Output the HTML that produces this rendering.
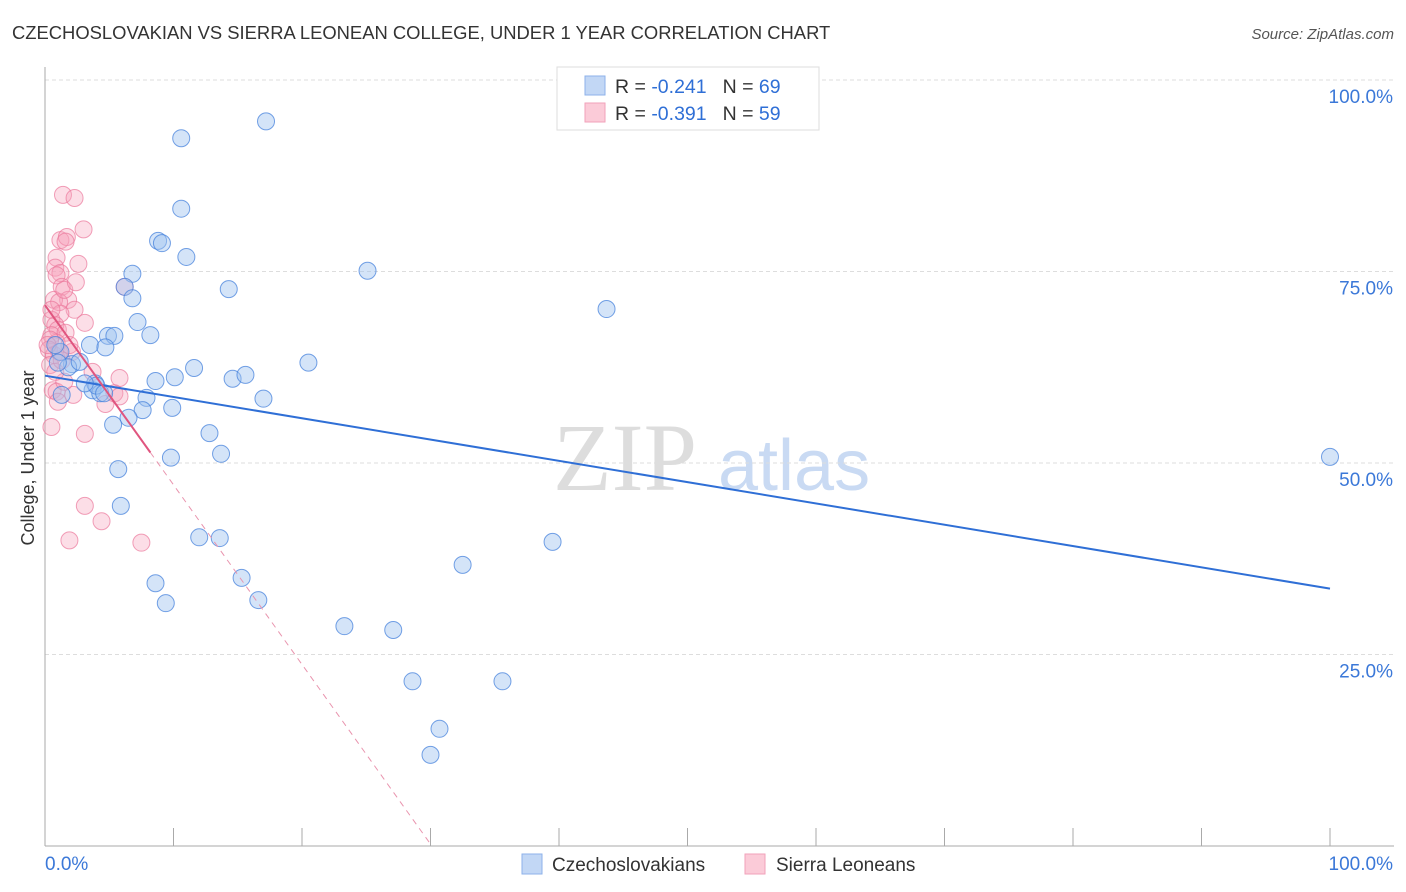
<!DOCTYPE html>
<html><head><meta charset="utf-8"><style>
body{margin:0;background:#fff;font-family:"Liberation Sans",sans-serif;}
#wrap{position:relative;width:1406px;height:892px;overflow:hidden}
</style></head><body>
<div id="wrap">
<svg id="svg" width="1406" height="892" xmlns="http://www.w3.org/2000/svg">
<text x="12" y="39" font-size="18.4" fill="#333">CZECHOSLOVAKIAN VS SIERRA LEONEAN COLLEGE, UNDER 1 YEAR CORRELATION CHART</text>
<text x="1394" y="39" font-size="15" fill="#555" font-style="italic" text-anchor="end">Source: ZipAtlas.com</text>
<text x="34" y="458" font-size="18" fill="#333" text-anchor="middle" transform="rotate(-90 34 458)">College, Under 1 year</text>
<text x="553" y="490" font-size="96" fill="#ddd" font-family="Liberation Serif,serif">ZIP</text>
<text x="718" y="490" font-size="72" fill="#c9daf3">atlas</text>
<g id="grid"></g><g id="pts"></g><g id="trend"></g>
<g>
<rect x="557" y="67" width="262" height="63" fill="#fff" stroke="#ddd"/>
<rect x="585" y="76" width="20" height="19" fill="#c2d7f5" stroke="#8db2ea"/>
<rect x="585" y="103" width="20" height="19" fill="#fbcbd8" stroke="#f1a2ba"/>
<text x="615" y="93" font-size="19.5" fill="#333">R = <tspan fill="#2f6fd6">-0.241</tspan><tspan dx="16">N = </tspan><tspan fill="#2f6fd6">69</tspan></text>
<text x="615" y="120" font-size="19.5" fill="#333">R = <tspan fill="#2f6fd6">-0.391</tspan><tspan dx="16">N = </tspan><tspan fill="#2f6fd6">59</tspan></text>
</g>
<g>
<rect x="522" y="854" width="20" height="20" fill="#c2d7f5" stroke="#8db2ea"/>
<text x="552" y="871" font-size="19" fill="#333">Czechoslovakians</text>
<rect x="745" y="854" width="20" height="20" fill="#fbcbd8" stroke="#f1a2ba"/>
<text x="776" y="871" font-size="19" fill="#333">Sierra Leoneans</text>
</g>
</svg>
</div>
<script>
const yTicks=[100,75,50,25];
const yTickLabels=["100.0%","75.0%","50.0%","25.0%"];
const xTickValues=[0,10,20,30,40,50,60,70,80,90,100];
const bluePx=[[688,80],[266,121],[181,138],[181,209],[158,241],[162,243],[186,257],[132,274],[229,289],[125,287],[133,298],[367,271],[606,309],[137,322],[151,335],[108,336],[115,336],[90,345],[106,347],[60,352],[72,364],[68,367],[80,362],[309,363],[194,368],[155,381],[175,377],[232,379],[246,375],[95,383],[93,390],[100,393],[263,399],[147,398],[143,410],[172,408],[128,418],[113,425],[210,433],[171,458],[221,454],[118,469],[121,506],[199,537],[220,538],[552,542],[156,583],[241,578],[166,603],[258,600],[462,565],[344,626],[393,630],[413,681],[502,681],[440,729],[430,755],[1330,457],[55,345],[58,363],[62,395],[97,386],[104,393],[85,383]];
const pinkPx=[[63,195],[74,198],[84,229],[60,240],[67,237],[66,242],[78,264],[56,258],[55,268],[60,273],[57,275],[62,287],[68,300],[54,300],[59,302],[74,310],[60,314],[52,320],[55,325],[85,323],[58,330],[51,335],[65,333],[57,343],[50,340],[49,350],[54,355],[59,352],[72,352],[92,372],[120,378],[53,390],[56,392],[73,395],[105,404],[58,402],[114,393],[125,287],[52,427],[85,434],[85,506],[102,521],[69,540],[142,543],[120,396],[64,382],[50,365],[55,372],[62,360],[70,345],[48,345],[52,310],[64,290],[76,282]];
const blueX=bluePx.map(p=>+((p[0]-45)/12.85).toFixed(1));
const blueY=bluePx.map(p=>+((846-p[1])/7.66).toFixed(1));
const pinkX=pinkPx.map(p=>+((p[0]-45)/12.85).toFixed(1));
const pinkY=pinkPx.map(p=>+((846-p[1])/7.66).toFixed(1));
const blueTrend=[61.4,33.6];
const pinkTrend=[70.6,-2.345];
const pinkSolidEnd=8.2, pinkDashEnd=30.1;
const X=v=>45+v*12.85, Y=v=>846-v*7.66;
const NS="http://www.w3.org/2000/svg";
function mk(tag,attrs,parent){const e=document.createElementNS(NS,tag);for(const k in attrs)e.setAttribute(k,attrs[k]);parent.appendChild(e);return e;}
const grid=document.getElementById('grid');
yTicks.forEach((t,i)=>{
 const l=mk('line',{x1:45,x2:1394,y1:Y(t),y2:Y(t),stroke:'#ddd','stroke-dasharray':'4,3'},grid);
 
 
 const tx=mk('text',{x:1393,y:Y(t)+23,'font-size':19,fill:'#3b78d8','text-anchor':'end'},grid);
 tx.textContent=yTickLabels[i];
 
 
});
const ax=mk('line',{x1:45,x2:1394,y1:846,y2:846,stroke:'#aaa'},grid);


const ay=mk('line',{x1:45,x2:45,y1:67,y2:846,stroke:'#aaa'},grid);


xTickValues.forEach(v=>{const t=mk('line',{x1:X(v),x2:X(v),y1:828,y2:846,stroke:'#aaa'},grid);
 
 });
const xl0=mk('text',{x:45,y:870,'font-size':19,fill:'#3b78d8'},grid);xl0.textContent='0.0%';


const xl1=mk('text',{x:1393,y:870,'font-size':19,fill:'#3b78d8','text-anchor':'end'},grid);xl1.textContent='100.0%';


const pts=document.getElementById('pts');
pinkX.forEach((x,i)=>{const c=mk('circle',{cx:X(x),cy:Y(pinkY[i]),r:8.5,fill:'rgba(245,160,185,0.35)',stroke:'rgba(235,120,155,0.7)','stroke-width':1},pts);
 
 });
blueX.forEach((x,i)=>{const c=mk('circle',{cx:X(x),cy:Y(blueY[i]),r:8.5,fill:'rgba(160,195,240,0.45)',stroke:'rgba(70,130,220,0.75)','stroke-width':1},pts);
 
 });
const tr=document.getElementById('trend');
const bl=mk('line',{x1:X(0),y1:Y(blueTrend[0]),x2:X(100),y2:Y(blueTrend[1]),stroke:'#2f6fd6','stroke-width':2},tr);


const pf=v=>pinkTrend[0]+pinkTrend[1]*v;
const pd=mk('line',{x1:X(pinkSolidEnd),y1:Y(pf(pinkSolidEnd)),x2:X(pinkDashEnd),y2:Y(pf(pinkDashEnd)),stroke:'#e994ae','stroke-width':1,'stroke-dasharray':'6,5'},tr);


const ps=mk('line',{x1:X(0),y1:Y(pf(0)),x2:X(pinkSolidEnd),y2:Y(pf(pinkSolidEnd)),stroke:'#e0557f','stroke-width':2},tr);


</script>
</body></html>
